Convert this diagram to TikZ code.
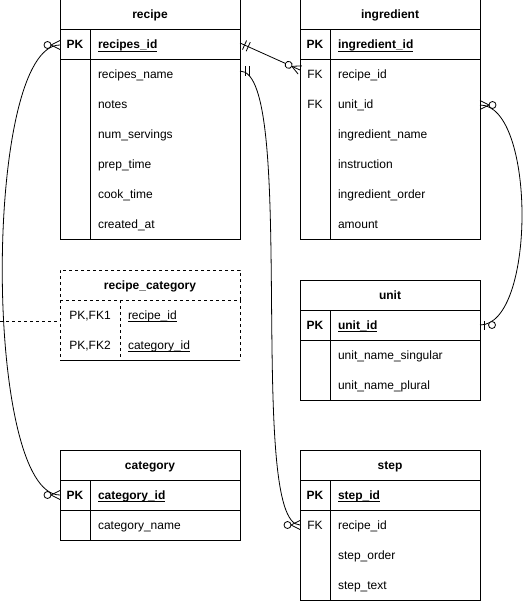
\documentclass[tikz,border=0pt]{standalone}
\usepackage{fontspec}
\setmainfont{Liberation Sans}
\usetikzlibrary{positioning}
\newcommand{\keyfield}[1]{\setbox0=\hbox{#1}\rlap{\rule[-2.6pt]{\wd0}{0.9pt}}\box0}

\begin{document}
\begin{tikzpicture}[x=1pt,y=-1pt,line width=1pt,font=\fontsize{12}{14}\selectfont,
	tablehead/.style={draw,minimum width=180pt,minimum height=30pt,inner sep=0pt,outer sep=0pt,text height=10pt,text depth=2pt,font=\fontsize{12}{14}\selectfont\bfseries},
	field/.style={minimum height=30pt,inner xsep=8pt,inner ysep=0pt,outer sep=0pt,text width=#1,align=left,text height=10pt,text depth=2pt},
	field/.default=134pt,
	keycell/.style={minimum width=#1,minimum height=30pt,inner sep=0pt,outer sep=0pt,text height=10pt,text depth=2pt},
	keycell/.default=30pt,
	boldtext/.style={font=\fontsize{12}{14}\selectfont\bfseries},
	dashline/.style={dash pattern=on 3pt off 3pt},
	rel/.style={line width=0.8pt}]
	\tikzset{
		zmany/.pic={\draw (-9,0) -- (0,-4.5) (-9,0) -- (0,4.5); \draw[fill=white] (-12.5,0) circle (3.5);},
		mone/.pic={\draw (-5,-5) -- (-5,5) (-9,-5) -- (-9,5);},
		zone/.pic={\draw (-4,-4.5) -- (-4,4.5); \draw[fill=white] (-12,0) circle (3.5);}
	}
	\useasboundingbox (0,0) rectangle (531,601);

	% recipe
	\node[tablehead] (recipe) at (150,15) {recipe};
	\node[field,boldtext] (recipe-id) at (165,45) {\keyfield{recipes\_id}};
	\node[field] (recipe-name) [below=0pt of recipe-id] {recipes\_name};
	\node[field] (recipe-notes) [below=0pt of recipe-name] {notes};
	\node[field] (recipe-serv) [below=0pt of recipe-notes] {num\_servings};
	\node[field] (recipe-prep) [below=0pt of recipe-serv] {prep\_time};
	\node[field] (recipe-cook) [below=0pt of recipe-prep] {cook\_time};
	\node[field] (recipe-created) [below=0pt of recipe-cook] {created\_at};
	\node[keycell,boldtext] (recipe-pk) [left=0pt of recipe-id] {PK};
	\draw (recipe.south west) rectangle (recipe-created.south east);
	\draw (recipe-pk.south west) -- (recipe-id.south east);
	\draw (recipe-pk.north east) -- (recipe-pk.north east |- recipe-created.south);

	% ingredient
	\node[tablehead] (ingr) at (390,15) {ingredient};
	\node[field,boldtext] (ingr-id) at (405,45) {\keyfield{ingredient\_id}};
	\node[field] (ingr-recipe) [below=0pt of ingr-id] {recipe\_id};
	\node[field] (ingr-unit) [below=0pt of ingr-recipe] {unit\_id};
	\node[field] (ingr-name) [below=0pt of ingr-unit] {ingredient\_name};
	\node[field] (ingr-instr) [below=0pt of ingr-name] {instruction};
	\node[field] (ingr-order) [below=0pt of ingr-instr] {ingredient\_order};
	\node[field] (ingr-amount) [below=0pt of ingr-order] {amount};
	\node[keycell,boldtext] (ingr-pk) [left=0pt of ingr-id] {PK};
	\node[keycell] (ingr-fk1) [left=0pt of ingr-recipe] {FK};
	\node[keycell] (ingr-fk2) [left=0pt of ingr-unit] {FK};
	\draw (ingr.south west) rectangle (ingr-amount.south east);
	\draw (ingr-pk.south west) -- (ingr-id.south east);
	\draw (ingr-pk.north east) -- (ingr-pk.north east |- ingr-amount.south);

	% recipe_category
	\node[tablehead,dashline] (rcat) at (150,285) {recipe\_category};
	\node[field=104pt] (rcat-recipe) at (180,315) {\keyfield{recipe\_id}};
	\node[field=104pt] (rcat-cat) [below=0pt of rcat-recipe] {\keyfield{category\_id}};
	\node[keycell=60pt] (rcat-k1) [left=0pt of rcat-recipe] {PK,FK1};
	\node[keycell=60pt] (rcat-k2) [left=0pt of rcat-cat] {PK,FK2};
	\draw[dashline] (rcat.south west) -- (rcat-k2.south west)
		(rcat.south east) -- (rcat-cat.south east)
		(rcat-k1.north east) -- (rcat-k2.south east);
	\draw (rcat-k2.south west) -- (rcat-cat.south east);

	% unit
	\node[tablehead] (unit) at (390,295) {unit};
	\node[field,boldtext] (unit-id) at (405,325) {\keyfield{unit\_id}};
	\node[field] (unit-sing) [below=0pt of unit-id] {unit\_name\_singular};
	\node[field] (unit-plural) [below=0pt of unit-sing] {unit\_name\_plural};
	\node[keycell,boldtext] (unit-pk) [left=0pt of unit-id] {PK};
	\draw (unit.south west) rectangle (unit-plural.south east);
	\draw (unit-pk.south west) -- (unit-id.south east);
	\draw (unit-pk.north east) -- (unit-pk.north east |- unit-plural.south);

	% category
	\node[tablehead] (cat) at (150,465) {category};
	\node[field,boldtext] (cat-id) at (165,495) {\keyfield{category\_id}};
	\node[field] (cat-name) [below=0pt of cat-id] {category\_name};
	\node[keycell,boldtext] (cat-pk) [left=0pt of cat-id] {PK};
	\draw (cat.south west) rectangle (cat-name.south east);
	\draw (cat-pk.south west) -- (cat-id.south east);
	\draw (cat-pk.north east) -- (cat-pk.north east |- cat-name.south);

	% step
	\node[tablehead] (steps) at (390,465) {step};
	\node[field,boldtext] (steps-id) at (405,495) {\keyfield{step\_id}};
	\node[field] (steps-recipe) [below=0pt of steps-id] {recipe\_id};
	\node[field] (steps-order) [below=0pt of steps-recipe] {step\_order};
	\node[field] (steps-text) [below=0pt of steps-order] {step\_text};
	\node[keycell,boldtext] (steps-pk) [left=0pt of steps-id] {PK};
	\node[keycell] (steps-fk) [left=0pt of steps-recipe] {FK};
	\draw (steps.south west) rectangle (steps-text.south east);
	\draw (steps-pk.south west) -- (steps-id.south east);
	\draw (steps-pk.north east) -- (steps-pk.north east |- steps-text.south);

	% relations
	\coordinate (rc-join) at (0,321);
	\draw[rel] ([yshift=2pt]recipe-id.east) -- ([yshift=5pt]ingr-fk1.west);
	\draw[rel] ([yshift=4pt]recipe-name.east) to[out=0,in=180,out distance=58pt,in distance=54pt] (steps-fk.west);
	\draw[rel] (recipe-pk.west) to[out=180,in=180,distance=77pt] (cat-pk.west);
	\draw[rel] (ingr-unit.east) to[out=0,in=0,distance=56pt] (unit-id.east);
	\draw[rel,dashline] (rc-join) -- (rc-join -| rcat.west);

	\pic[rel,rotate=155.8] at ([yshift=2pt]recipe-id.east) {mone};
	\pic[rel,rotate=-24.2] at ([yshift=5pt]ingr-fk1.west) {zmany};
	\pic[rel,rotate=180] at ([yshift=4pt]recipe-name.east) {mone};
	\pic[rel] at (steps-fk.west) {zmany};
	\pic[rel] at (recipe-pk.west) {zmany};
	\pic[rel] at (cat-pk.west) {zmany};
	\pic[rel,rotate=180] at (ingr-unit.east) {zmany};
	\pic[rel,rotate=180] at (unit-id.east) {zone};
\end{tikzpicture}
\end{document}
